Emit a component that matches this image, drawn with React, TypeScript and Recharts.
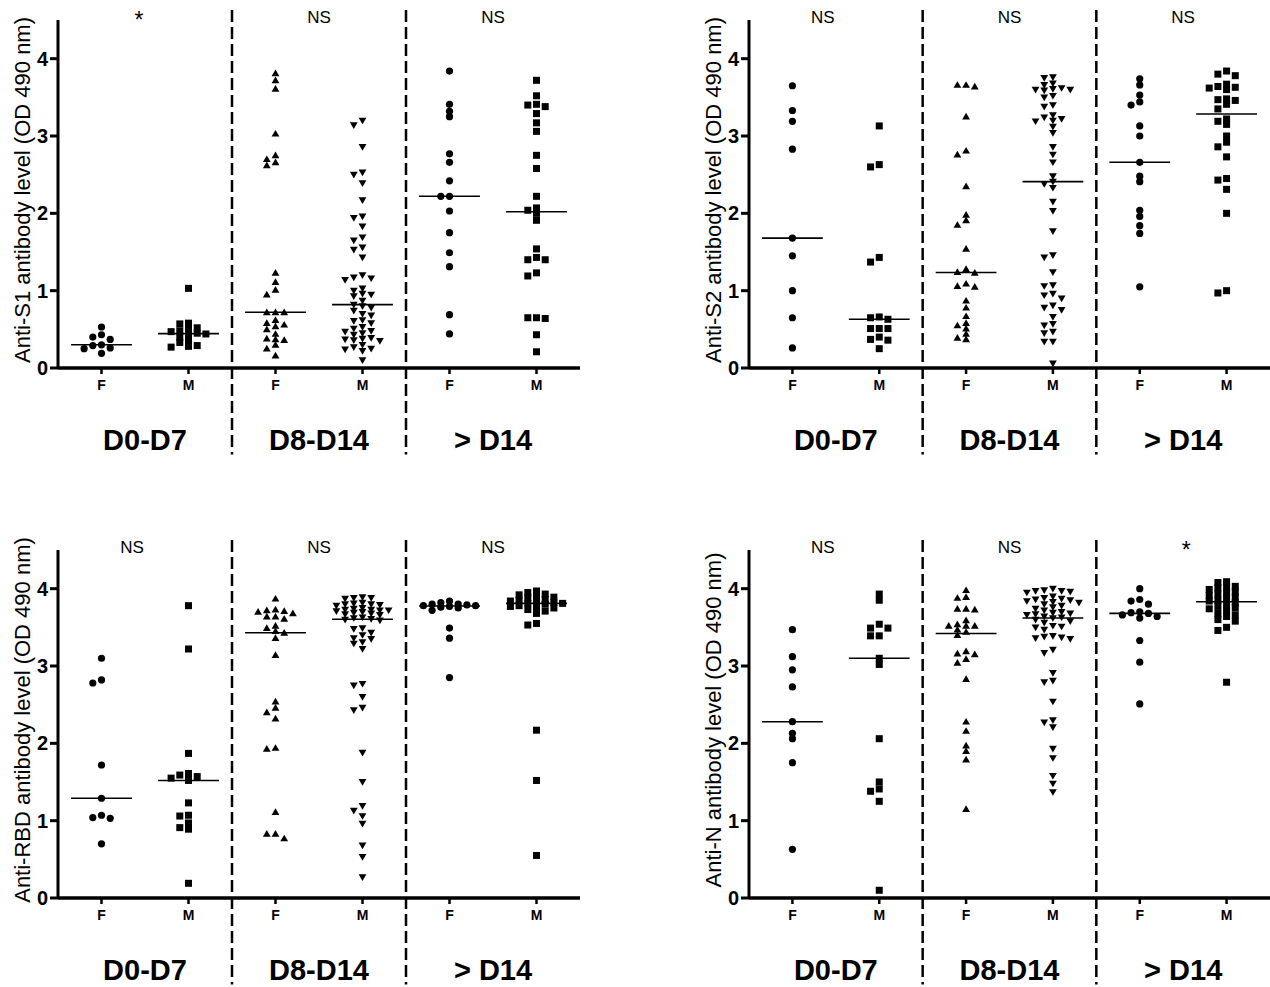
import React from 'react';
import { ScatterChart, Scatter, XAxis, YAxis, ReferenceLine } from 'recharts';

const FONT = '"Liberation Sans", Arial, Helvetica, sans-serif';

// ---- axes / labels ----
const CATEGORY_TICKS = [0, 1, 2, 3, 4, 5];
const SEX_LABELS = ['F', 'M', 'F', 'M', 'F', 'M'];
const GROUP_TICKS = [0.5, 2.5, 4.5];
const GROUP_LABELS = ['D0-D7', 'D8-D14', '> D14'];
const Y_TICKS = [0, 1, 2, 3, 4];
const DIVIDERS = [1.5, 3.5];

// ---- Anti-S1 ----
const s1_D0_F = [0.53, 0.43, 0.40, 0.37, 0.30, 0.29, 0.26, 0.25, 0.19];
const s1_D0_M = [1.03, 0.58, 0.57, 0.52, 0.50, 0.48, 0.47, 0.45, 0.44, 0.42, 0.40, 0.35, 0.33, 0.29, 0.28, 0.27];
const s1_D8_F = [3.81, 3.72, 3.61, 3.03, 2.75, 2.70, 2.66, 2.62, 1.23, 1.11, 1.01, 0.95, 0.72, 0.72, 0.72, 0.62, 0.58, 0.56, 0.54, 0.50, 0.44, 0.38, 0.37, 0.36, 0.30, 0.25, 0.16];
const s1_D8_M = [3.20, 3.14, 2.86, 2.53, 2.50, 2.39, 2.17, 1.96, 1.94, 1.83, 1.69, 1.65, 1.56, 1.53, 1.43, 1.20, 1.17, 1.16, 1.14, 1.03, 1.00, 0.96, 0.95, 0.93, 0.87, 0.82, 0.80, 0.78, 0.74, 0.70, 0.68, 0.62, 0.61, 0.58, 0.53, 0.51, 0.48, 0.47, 0.45, 0.43, 0.39, 0.38, 0.37, 0.36, 0.35, 0.30, 0.27, 0.25, 0.24, 0.22, 0.10];
const s1_D14_F = [3.84, 3.41, 3.32, 3.25, 2.77, 2.66, 2.42, 2.22, 2.22, 2.03, 1.75, 1.49, 1.31, 0.69, 0.44];
const s1_D14_M = [3.72, 3.52, 3.41, 3.40, 3.38, 3.29, 3.17, 3.06, 2.75, 2.58, 2.22, 2.07, 2.04, 2.00, 1.91, 1.54, 1.43, 1.40, 1.40, 1.23, 1.19, 0.65, 0.65, 0.64, 0.43, 0.21];
const s1_SIG = ['*', 'NS', 'NS'];

// ---- Anti-S2 ----
const s2_D0_F = [3.65, 3.33, 3.19, 2.83, 1.68, 1.45, 1.00, 0.65, 0.26];
const s2_D0_M = [3.13, 2.63, 2.60, 1.43, 1.37, 0.66, 0.65, 0.63, 0.51, 0.51, 0.51, 0.40, 0.37, 0.36, 0.25];
const s2_D8_F = [3.66, 3.66, 3.64, 3.25, 2.81, 2.76, 2.35, 1.98, 1.91, 1.85, 1.54, 1.28, 1.24, 1.23, 1.09, 1.06, 1.05, 0.87, 0.78, 0.67, 0.58, 0.55, 0.51, 0.44, 0.39, 0.37];
const s2_D8_M = [3.76, 3.75, 3.68, 3.66, 3.62, 3.61, 3.60, 3.60, 3.59, 3.52, 3.50, 3.40, 3.38, 3.27, 3.24, 3.22, 3.20, 3.19, 3.12, 3.04, 2.86, 2.76, 2.66, 2.48, 2.41, 2.38, 2.33, 2.15, 2.03, 1.77, 1.46, 1.43, 1.24, 1.07, 1.06, 0.96, 0.94, 0.90, 0.81, 0.78, 0.75, 0.66, 0.57, 0.55, 0.47, 0.45, 0.34, 0.34, 0.06];
const s2_D14_F = [3.74, 3.66, 3.53, 3.44, 3.40, 3.13, 3.00, 2.66, 2.48, 2.41, 2.04, 1.96, 1.84, 1.74, 1.05];
const s2_D14_M = [3.84, 3.80, 3.78, 3.67, 3.64, 3.63, 3.62, 3.60, 3.48, 3.47, 3.46, 3.41, 3.35, 3.22, 3.19, 3.15, 3.00, 2.92, 2.86, 2.73, 2.45, 2.43, 2.31, 2.00, 1.00, 0.97];
const s2_SIG = ['NS', 'NS', 'NS'];

// ---- Anti-RBD ----
const rbd_D0_F = [3.10, 2.82, 2.78, 1.72, 1.29, 1.07, 1.04, 1.03, 0.70];
const rbd_D0_M = [3.78, 3.22, 1.87, 1.61, 1.59, 1.57, 1.55, 1.52, 1.23, 1.07, 1.06, 0.97, 0.91, 0.89, 0.19];
const rbd_D8_F = [3.87, 3.73, 3.72, 3.71, 3.70, 3.68, 3.64, 3.64, 3.61, 3.52, 3.49, 3.45, 3.43, 3.36, 3.14, 2.54, 2.46, 2.40, 2.32, 1.94, 1.93, 1.11, 0.83, 0.83, 0.77];
const rbd_D8_M = [3.89, 3.88, 3.88, 3.87, 3.82, 3.81, 3.80, 3.80, 3.79, 3.78, 3.75, 3.74, 3.73, 3.73, 3.72, 3.72, 3.71, 3.70, 3.69, 3.68, 3.67, 3.66, 3.63, 3.62, 3.61, 3.60, 3.59, 3.49, 3.48, 3.43, 3.40, 3.36, 3.35, 3.31, 3.29, 3.22, 2.77, 2.75, 2.60, 2.46, 2.43, 1.88, 1.50, 1.19, 1.13, 1.06, 0.96, 0.68, 0.53, 0.27];
const rbd_D14_F = [3.84, 3.82, 3.80, 3.80, 3.79, 3.78, 3.78, 3.77, 3.76, 3.75, 3.72, 3.49, 3.36, 2.85];
const rbd_D14_M = [3.97, 3.95, 3.93, 3.92, 3.90, 3.89, 3.88, 3.86, 3.85, 3.84, 3.83, 3.82, 3.81, 3.81, 3.80, 3.78, 3.77, 3.76, 3.75, 3.73, 3.71, 3.68, 3.55, 3.53, 2.17, 1.52, 0.55];
const rbd_SIG = ['NS', 'NS', 'NS'];

// ---- Anti-N ----
const n_D0_F = [3.47, 3.12, 2.95, 2.73, 2.28, 2.13, 2.06, 1.75, 0.63];
const n_D0_M = [3.93, 3.85, 3.54, 3.49, 3.49, 3.39, 3.39, 3.10, 3.02, 2.06, 1.50, 1.41, 1.38, 1.25, 0.10];
const n_D8_F = [3.98, 3.89, 3.88, 3.74, 3.74, 3.73, 3.59, 3.54, 3.52, 3.52, 3.52, 3.47, 3.44, 3.40, 3.19, 3.16, 3.15, 3.09, 3.04, 2.83, 2.28, 2.16, 1.97, 1.90, 1.79, 1.15];
const n_D8_M = [4.00, 3.98, 3.97, 3.97, 3.96, 3.95, 3.90, 3.88, 3.87, 3.86, 3.85, 3.84, 3.83, 3.82, 3.80, 3.78, 3.76, 3.74, 3.72, 3.70, 3.69, 3.68, 3.67, 3.66, 3.64, 3.63, 3.62, 3.60, 3.58, 3.56, 3.52, 3.51, 3.50, 3.47, 3.39, 3.38, 3.37, 3.36, 3.35, 3.21, 3.17, 2.91, 2.81, 2.79, 2.54, 2.30, 2.27, 2.21, 1.93, 1.81, 1.58, 1.48, 1.37];
const n_D14_F = [4.00, 3.86, 3.84, 3.80, 3.70, 3.69, 3.68, 3.66, 3.64, 3.62, 3.33, 3.05, 2.51];
const n_D14_M = [4.09, 4.08, 4.03, 4.02, 4.01, 3.99, 3.96, 3.94, 3.93, 3.91, 3.89, 3.87, 3.85, 3.84, 3.82, 3.80, 3.77, 3.75, 3.74, 3.72, 3.68, 3.66, 3.64, 3.60, 3.58, 3.50, 3.46, 2.79];
const n_SIG = ['NS', 'NS', '*'];

// ---- helpers ----
const SLOT_ORDER = [0, -1, 1, -2, 2, -3, 3];
function swarm(values: number[], center: number) {
  const STEP = 0.1;
  const GAP = 0.065;
  const sorted = [...values].sort((a, b) => b - a);
  const placed: { y: number; k: number }[] = [];
  return sorted.map((y) => {
    let chosen: number | null = null;
    let best = SLOT_ORDER[0];
    let bestDist = -1;
    for (const c of SLOT_ORDER) {
      const ds = placed.filter((p) => p.k === c).map((p) => Math.abs(p.y - y));
      const d = ds.length ? Math.min(...ds) : Infinity;
      if (d >= GAP) {
        chosen = c;
        break;
      }
      if (d > bestDist) {
        bestDist = d;
        best = c;
      }
    }
    const k = chosen ?? best;
    placed.push({ y, k });
    return { x: center + k * STEP, y };
  });
}
function median(v: number[]) {
  const s = [...v].sort((a, b) => a - b);
  const n = s.length;
  return n % 2 ? s[(n - 1) / 2] : (s[n / 2 - 1] + s[n / 2]) / 2;
}

const CircleShape = (p: any) => <circle cx={p.cx} cy={p.cy} r={3.6} fill="#000" />;
const SquareShape = (p: any) => <rect x={p.cx - 3.5} y={p.cy - 3.5} width={7} height={7} fill="#000" />;
const TriUpShape = (p: any) => (
  <path d={`M${p.cx},${p.cy - 3.8} L${p.cx + 3.9},${p.cy + 2.9} L${p.cx - 3.9},${p.cy + 2.9} Z`} fill="#000" />
);
const TriDownShape = (p: any) => (
  <path d={`M${p.cx},${p.cy + 3.8} L${p.cx + 3.9},${p.cy - 2.9} L${p.cx - 3.9},${p.cy - 2.9} Z`} fill="#000" />
);
const HiddenShape = () => <g />;
const SHAPES = [CircleShape, SquareShape, TriUpShape, TriDownShape, CircleShape, SquareShape];

const GroupTick = (props: any) => {
  const { x, y, index } = props;
  return (
    <text x={x} y={y + 52} textAnchor="middle" fontSize={29} fontWeight={700} fontFamily={FONT} fill="#000">
      {GROUP_LABELS[index]}
    </text>
  );
};

const makeSigTick = (sig: string[]) => (props: any) => {
  const { x, y, index } = props;
  const label = sig[index];
  const star = label === '*';
  const shift = index === 0 ? (star ? -6 : -13) : star ? 3 : 0;
  return (
    <text
      x={x + shift}
      y={y + (star ? 8 : 3)}
      textAnchor="middle"
      fontSize={star ? 23 : 17}
      fontFamily={FONT}
      fill="#000"
    >
      {label}
    </text>
  );
};

const makeYLabel = (text: string) => (props: any) => {
  const vb = props && props.viewBox && props.viewBox.height ? props.viewBox : { x: 0, y: 20, width: 58, height: 348 };
  const cx = vb.x + 22;
  const cy = vb.y + vb.height / 2 - 4;
  return (
    <text
      x={cx}
      y={cy}
      transform={`rotate(-90 ${cx} ${cy})`}
      textAnchor="middle"
      dominantBaseline="central"
      fontSize={22}
      fontFamily={FONT}
      fill="#000"
    >
      {text}
    </text>
  );
};

const GROUP_ANCHORS = GROUP_TICKS.map((x) => ({ x, y: 0 }));

type PanelProps = {
  left: number;
  top: number;
  width: number;
  rightMargin: number;
  yLabel: string;
  sig: string[];
  groups: number[][];
};

function Panel({ left, top, width, rightMargin, yLabel, sig, groups }: PanelProps) {
  const domainX: [number, number] = [-0.5, 5.5];
  return (
    <div style={{ position: 'absolute', left, top, width, height: 470 }}>
      <ScatterChart width={width} height={470} margin={{ top: 0, right: rightMargin, bottom: 0, left: 0 }}>
        <XAxis
          xAxisId={0}
          dataKey="x"
          type="number"
          domain={domainX}
          allowDataOverflow
          ticks={CATEGORY_TICKS}
          interval={0}
          tickFormatter={(v: number) => SEX_LABELS[Math.round(v)] ?? ''}
          height={30}
          tickSize={6}
          tickMargin={6}
          axisLine={{ stroke: '#000', strokeWidth: 3.5 }}
          tickLine={{ stroke: '#000', strokeWidth: 2.5 }}
          tick={{ fill: '#000', fontSize: 14, fontWeight: 700, fontFamily: FONT }}
        />
        <XAxis
          xAxisId="top"
          orientation="top"
          dataKey="x"
          type="number"
          domain={domainX}
          allowDataOverflow
          ticks={GROUP_TICKS}
          interval={0}
          height={20}
          tickSize={0}
          tickMargin={0}
          axisLine={false}
          tickLine={false}
          tick={makeSigTick(sig)}
        />
        <XAxis
          xAxisId="grp"
          dataKey="x"
          type="number"
          domain={domainX}
          allowDataOverflow
          ticks={GROUP_TICKS}
          interval={0}
          height={72}
          tickSize={0}
          tickMargin={0}
          axisLine={false}
          tickLine={false}
          tick={<GroupTick />}
        />
        <YAxis
          dataKey="y"
          type="number"
          domain={[0, 4.5]}
          allowDataOverflow
          ticks={Y_TICKS}
          interval={0}
          width={58}
          tickSize={8}
          tickMargin={2}
          axisLine={{ stroke: '#000', strokeWidth: 3 }}
          tickLine={{ stroke: '#000', strokeWidth: 3 }}
          tick={{ fill: '#000', fontSize: 20, fontWeight: 700, fontFamily: FONT }}
          label={makeYLabel(yLabel)}
        />
        {DIVIDERS.map((d) => (
          <ReferenceLine
            key={`div-${d}`}
            segment={[{ x: d, y: 4.63 }, { x: d, y: -1.12 }]}
            ifOverflow="visible"
            stroke="#000"
            strokeWidth={2.5}
            strokeDasharray="12 5"
          />
        ))}
        {groups.map((g, i) => (
          <ReferenceLine
            key={`med-${i}`}
            segment={[{ x: i - 0.35, y: median(g) }, { x: i + 0.35, y: median(g) }]}
            ifOverflow="visible"
            stroke="#000"
            strokeWidth={1.6}
          />
        ))}
        <Scatter xAxisId="top" data={GROUP_ANCHORS} shape={HiddenShape} isAnimationActive={false} />
        <Scatter xAxisId="grp" data={GROUP_ANCHORS} shape={HiddenShape} isAnimationActive={false} />
        {groups.map((g, i) => (
          <Scatter key={`s-${i}`} data={swarm(g, i)} shape={SHAPES[i]} isAnimationActive={false} />
        ))}
      </ScatterChart>
    </div>
  );
}

export default function App() {
  return (
    <div
      style={{
        position: 'absolute',
        left: 0,
        top: 0,
        width: 1270,
        height: 987,
        overflow: 'hidden',
        background: '#fff',
        fontFamily: FONT,
      }}
    >
      <Panel
        left={0}
        top={0}
        width={600}
        rightMargin={20}
        yLabel="Anti-S1 antibody level (OD 490 nm)"
        sig={s1_SIG}
        groups={[s1_D0_F, s1_D0_M, s1_D8_F, s1_D8_M, s1_D14_F, s1_D14_M]}
      />
      <Panel
        left={691}
        top={0}
        width={579}
        rightMargin={0}
        yLabel="Anti-S2 antibody level (OD 490 nm)"
        sig={s2_SIG}
        groups={[s2_D0_F, s2_D0_M, s2_D8_F, s2_D8_M, s2_D14_F, s2_D14_M]}
      />
      <Panel
        left={0}
        top={530}
        width={600}
        rightMargin={20}
        yLabel="Anti-RBD antibody level (OD 490 nm)"
        sig={rbd_SIG}
        groups={[rbd_D0_F, rbd_D0_M, rbd_D8_F, rbd_D8_M, rbd_D14_F, rbd_D14_M]}
      />
      <Panel
        left={691}
        top={530}
        width={579}
        rightMargin={0}
        yLabel="Anti-N antibody level (OD 490 nm)"
        sig={n_SIG}
        groups={[n_D0_F, n_D0_M, n_D8_F, n_D8_M, n_D14_F, n_D14_M]}
      />
    </div>
  );
}
